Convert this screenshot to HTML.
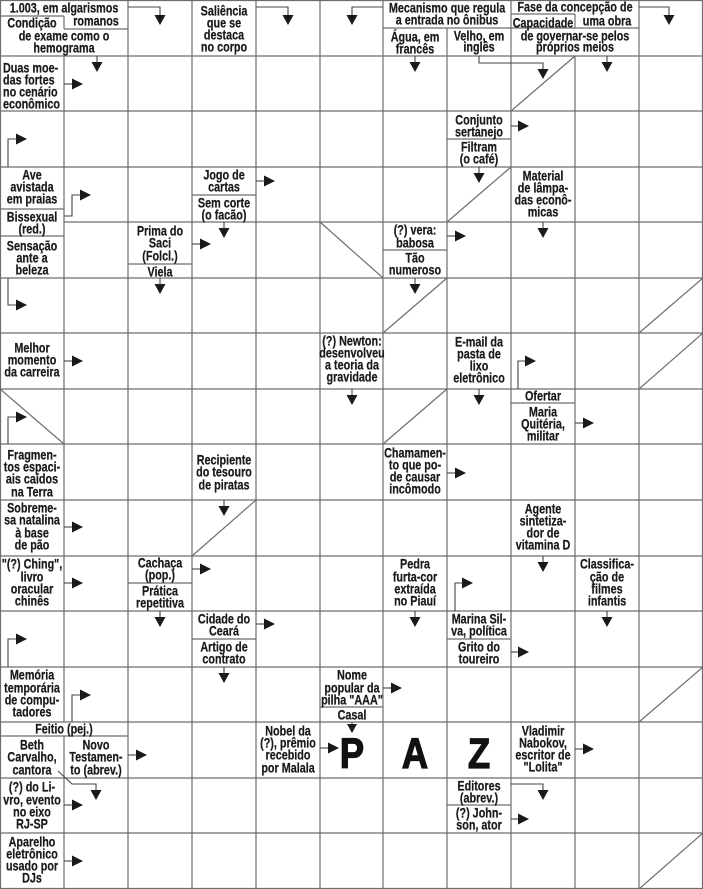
<!DOCTYPE html>
<html><head><meta charset="utf-8"><style>
html,body{margin:0;padding:0;background:#fff;}
svg{display:block;}
svg text{transform-box:fill-box;transform-origin:center;transform:scaleX(.8);}
svg .l text{transform-origin:left center;}
svg .big text{transform:scaleX(.85);}
</style></head><body>
<svg width="703" height="889" viewBox="0 0 703 889" xmlns="http://www.w3.org/2000/svg">
<rect x="0" y="0" width="703" height="889" fill="#fff"/>
<g stroke="#6e6e6e" stroke-width="1.2" fill="none">
<line x1="0.5" y1="0" x2="0.5" y2="889"/>
<line x1="64" y1="16" x2="64" y2="29"/>
<line x1="64" y1="56" x2="64" y2="722"/>
<line x1="64" y1="736" x2="64" y2="889"/>
<line x1="128" y1="0" x2="128" y2="889"/>
<line x1="192" y1="0" x2="192" y2="889"/>
<line x1="256" y1="0" x2="256" y2="889"/>
<line x1="320" y1="0" x2="320" y2="889"/>
<line x1="383" y1="0" x2="383" y2="889"/>
<line x1="447" y1="28" x2="447" y2="889"/>
<line x1="511" y1="0" x2="511" y2="889"/>
<line x1="575" y1="14" x2="575" y2="28"/>
<line x1="575" y1="56" x2="575" y2="889"/>
<line x1="639" y1="0" x2="639" y2="889"/>
<line x1="702.5" y1="0" x2="702.5" y2="889"/>
<line x1="0" y1="0.5" x2="703" y2="0.5"/>
<line x1="0" y1="56" x2="703" y2="56"/>
<line x1="0" y1="111" x2="703" y2="111"/>
<line x1="0" y1="167" x2="703" y2="167"/>
<line x1="64" y1="222" x2="703" y2="222"/>
<line x1="0" y1="278" x2="703" y2="278"/>
<line x1="0" y1="333" x2="703" y2="333"/>
<line x1="0" y1="389" x2="703" y2="389"/>
<line x1="0" y1="444" x2="703" y2="444"/>
<line x1="0" y1="500" x2="703" y2="500"/>
<line x1="0" y1="556" x2="703" y2="556"/>
<line x1="0" y1="611" x2="703" y2="611"/>
<line x1="0" y1="667" x2="703" y2="667"/>
<line x1="0" y1="722" x2="703" y2="722"/>
<line x1="0" y1="778" x2="703" y2="778"/>
<line x1="0" y1="833" x2="703" y2="833"/>
<line x1="0" y1="888.5" x2="703" y2="888.5"/>
<line x1="0" y1="16" x2="64" y2="16"/>
<line x1="64" y1="29" x2="128" y2="29"/>
<line x1="383" y1="28" x2="511" y2="28"/>
<line x1="511" y1="14" x2="575" y2="14"/>
<line x1="511" y1="28" x2="639" y2="28"/>
<line x1="447" y1="139" x2="511" y2="139"/>
<line x1="192" y1="195" x2="256" y2="195"/>
<line x1="0" y1="209" x2="64" y2="209"/>
<line x1="0" y1="236" x2="64" y2="236"/>
<line x1="128" y1="264" x2="192" y2="264"/>
<line x1="383" y1="250" x2="447" y2="250"/>
<line x1="511" y1="403" x2="575" y2="403"/>
<line x1="128" y1="583" x2="192" y2="583"/>
<line x1="192" y1="639" x2="256" y2="639"/>
<line x1="447" y1="639" x2="511" y2="639"/>
<line x1="320" y1="707" x2="383" y2="707"/>
<line x1="0" y1="736" x2="128" y2="736"/>
<line x1="447" y1="805" x2="511" y2="805"/>
<line x1="575" y1="56" x2="511" y2="111"/>
<line x1="511" y1="167" x2="447" y2="222"/>
<line x1="320" y1="222" x2="383" y2="278"/>
<line x1="447" y1="278" x2="383" y2="333"/>
<line x1="703" y1="278" x2="639" y2="333"/>
<line x1="703" y1="333" x2="639" y2="389"/>
<line x1="0" y1="389" x2="64" y2="444"/>
<line x1="447" y1="389" x2="383" y2="444"/>
<line x1="256" y1="500" x2="192" y2="556"/>
<line x1="703" y1="667" x2="639" y2="722"/>
<line x1="703" y1="833" x2="639" y2="889"/>
</g>
<g stroke="#444" stroke-width="1.1" fill="none">
<path d="M128,7H160V15"/><path d="M256,7H288V15"/><path d="M383,7H352V15"/><path d="M639,7H669V15"/>
<path d="M97,56V63"/><path d="M415,56V62"/><path d="M479,56V63H543V70"/><path d="M607,56V62"/>
<path d="M479,167V173"/><path d="M224,222V228"/><path d="M543,222V228"/><path d="M160,278V284"/>
<path d="M415,278V284"/><path d="M352,389V395"/><path d="M479,389V395"/><path d="M224,500V506"/>
<path d="M543,556V562"/><path d="M160,611V617"/><path d="M415,611V617"/><path d="M607,611V617"/>
<path d="M224,667V673"/><path d="M352,722V725"/><path d="M58,771L72,784H96V790"/><path d="M511,784H543V790"/>
<path d="M64,84H72"/><path d="M8,167V139H16"/><path d="M511,126H518"/><path d="M64,216H72V195H80"/>
<path d="M256,181H264"/><path d="M192,244H200"/><path d="M447,236H455"/><path d="M8,278V305H16"/>
<path d="M64,361H72"/><path d="M518,389V361H525"/><path d="M8,444V417H16"/><path d="M575,423H583"/>
<path d="M447,473H455"/><path d="M64,527H72"/><path d="M64,583H72"/><path d="M192,569H200"/>
<path d="M455,611V583H462"/><path d="M8,667V639H16"/><path d="M256,624H264"/><path d="M511,652H518"/>
<path d="M72,722V695H80"/><path d="M383,688H391"/><path d="M128,755H136"/><path d="M320,748H328"/>
<path d="M575,749H583"/><path d="M64,805H72"/><path d="M511,819H518"/><path d="M64,861H72"/>
</g>
<g fill="#1a1a1a">
<polygon points="154.5,15 165.5,15 160,25"/><polygon points="282.5,15 293.5,15 288,25"/>
<polygon points="346.5,15 357.5,15 352,25"/><polygon points="663.5,15 674.5,15 669,25"/>
<polygon points="91.5,62 102.5,62 97,72"/><polygon points="409.5,62 420.5,62 415,72"/>
<polygon points="537.5,69 548.5,69 543,79"/><polygon points="601.5,62 612.5,62 607,72"/>
<polygon points="473.5,173 484.5,173 479,183"/><polygon points="218.5,228 229.5,228 224,238"/>
<polygon points="537.5,228 548.5,228 543,238"/><polygon points="154.5,284 165.5,284 160,294"/>
<polygon points="409.5,284 420.5,284 415,294"/><polygon points="346.5,395 357.5,395 352,405"/>
<polygon points="473.5,395 484.5,395 479,405"/><polygon points="218.5,506 229.5,506 224,516"/>
<polygon points="537.5,562 548.5,562 543,572"/><polygon points="154.5,617 165.5,617 160,627"/>
<polygon points="409.5,617 420.5,617 415,627"/><polygon points="601.5,617 612.5,617 607,627"/>
<polygon points="218.5,673 229.5,673 224,683"/><polygon points="347,724 357,724 352,733"/>
<polygon points="90.5,790 101.5,790 96,800"/><polygon points="537.5,790 548.5,790 543,800"/>
<polygon points="72,78.5 83,84 72,89.5"/><polygon points="16,133.5 27,139 16,144.5"/>
<polygon points="518,120.5 529,126 518,131.5"/><polygon points="80,189.5 91,195 80,200.5"/>
<polygon points="264,175.5 275,181 264,186.5"/><polygon points="200,238.5 211,244 200,249.5"/>
<polygon points="455,230.5 466,236 455,241.5"/><polygon points="16,299.5 27,305 16,310.5"/>
<polygon points="72,355.5 83,361 72,366.5"/><polygon points="525,355.5 536,361 525,366.5"/>
<polygon points="16,411.5 27,417 16,422.5"/><polygon points="583,417.5 594,423 583,428.5"/>
<polygon points="455,467.5 466,473 455,478.5"/><polygon points="72,521.5 83,527 72,532.5"/>
<polygon points="72,577.5 83,583 72,588.5"/><polygon points="200,563.5 211,569 200,574.5"/>
<polygon points="462,577.5 473,583 462,588.5"/><polygon points="16,633.5 27,639 16,644.5"/>
<polygon points="264,618.5 275,624 264,629.5"/><polygon points="518,646.5 529,652 518,657.5"/>
<polygon points="80,689.5 91,695 80,700.5"/><polygon points="391,682.5 402,688 391,693.5"/>
<polygon points="136,749.5 147,755 136,760.5"/><polygon points="328,742.5 339,748 328,753.5"/>
<polygon points="583,743.5 594,749 583,754.5"/><polygon points="72,799.5 83,805 72,810.5"/>
<polygon points="518,813.5 529,819 518,824.5"/><polygon points="72,855.5 83,861 72,866.5"/>
</g>
<g font-family="'Liberation Sans Narrow','Liberation Sans',sans-serif" font-weight="bold" font-size="13.5" fill="#1a1a1a" stroke="#1a1a1a" stroke-width="0.25" text-anchor="middle" dominant-baseline="central">
<text x="64" y="8">1.003, em algarismos</text>
<text x="96" y="21">romanos</text>
<text x="32" y="23">Condição</text>
<text x="64" y="36">de exame como o</text>
<text x="64" y="48">hemograma</text>
<text x="224" y="11">Saliência</text><text x="224" y="23">que se</text><text x="224" y="35">destaca</text><text x="224" y="47">no corpo</text>
<text x="447" y="8">Mecanismo que regula</text><text x="447" y="20">a entrada no ônibus</text>
<text x="415" y="37">Água, em</text><text x="415" y="49">francês</text>
<text x="479" y="36">Velho, em</text><text x="479" y="47">inglês</text>
<text x="575" y="7">Fase da concepção de</text>
<text x="607" y="21">uma obra</text>
<text x="543" y="23">Capacidade</text>
<text x="575" y="36">de governar-se pelos</text><text x="575" y="47">próprios meios</text>
<g class="l" text-anchor="start"><text x="3" y="68">Duas moe-</text><text x="3" y="80">das fortes</text><text x="3" y="92">no cenário</text><text x="3" y="104">econômico</text></g>
<text x="479" y="120">Conjunto</text><text x="479" y="132">sertanejo</text>
<text x="479" y="147">Filtram</text><text x="479" y="159">(o café)</text>
<text x="32" y="175">Ave</text><text x="32" y="187">avistada</text><text x="32" y="199">em praias</text>
<text x="32" y="217">Bissexual</text><text x="32" y="229">(red.)</text>
<text x="32" y="246">Sensação</text><text x="32" y="258">ante a</text><text x="32" y="270">beleza</text>
<text x="224" y="175">Jogo de</text><text x="224" y="187">cartas</text>
<text x="224" y="203">Sem corte</text><text x="224" y="215">(o facão)</text>
<text x="543" y="176">Material</text><text x="543" y="188">de lâmpa-</text><text x="543" y="200">das econô-</text><text x="543" y="212">micas</text>
<text x="160" y="231">Prima do</text><text x="160" y="243">Saci</text><text x="160" y="256">(Folcl.)</text>
<text x="160" y="272">Viela</text>
<text x="415" y="230">(?) vera:</text><text x="415" y="243">babosa</text>
<text x="415" y="258">Tão</text><text x="415" y="270">numeroso</text>
<text x="32" y="348">Melhor</text><text x="32" y="360">momento</text><text x="32" y="372">da carreira</text>
<text x="352" y="341">(?) Newton:</text><text x="352" y="353">desenvolveu</text><text x="352" y="365">a teoria da</text><text x="352" y="377">gravidade</text>
<text x="479" y="342">E-mail da</text><text x="479" y="354">pasta de</text><text x="479" y="366">lixo</text><text x="479" y="378">eletrônico</text>
<text x="543" y="396">Ofertar</text>
<text x="543" y="412">Maria</text><text x="543" y="424">Quitéria,</text><text x="543" y="436">militar</text>
<text x="32" y="455">Fragmen-</text><text x="32" y="467">tos espaci-</text><text x="32" y="479">ais caídos</text><text x="32" y="492">na Terra</text>
<text x="224" y="460">Recipiente</text><text x="224" y="472">do tesouro</text><text x="224" y="485">de piratas</text>
<text x="415" y="453">Chamamen-</text><text x="415" y="465">to que po-</text><text x="415" y="477">de causar</text><text x="415" y="489">incômodo</text>
<text x="32" y="508">Sobreme-</text><text x="32" y="520">sa natalina</text><text x="32" y="533">à base</text><text x="32" y="545">de pão</text>
<text x="543" y="509">Agente</text><text x="543" y="521">sintetiza-</text><text x="543" y="533">dor de</text><text x="543" y="545">vitamina D</text>
<text x="32" y="564">"(?) Ching",</text><text x="32" y="577">livro</text><text x="32" y="589">oracular</text><text x="32" y="601">chinês</text>
<text x="160" y="563">Cachaça</text><text x="160" y="575">(pop.)</text>
<text x="160" y="591">Prática</text><text x="160" y="603">repetitiva</text>
<text x="415" y="564">Pedra</text><text x="415" y="577">furta-cor</text><text x="415" y="589">extraída</text><text x="415" y="601">no Piauí</text>
<text x="607" y="564">Classifica-</text><text x="607" y="577">ção de</text><text x="607" y="589">filmes</text><text x="607" y="601">infantis</text>
<text x="224" y="619">Cidade do</text><text x="224" y="631">Ceará</text>
<text x="224" y="647">Artigo de</text><text x="224" y="659">contrato</text>
<text x="479" y="619">Marina Sil-</text><text x="479" y="631">va, política</text>
<text x="479" y="647">Grito do</text><text x="479" y="659">toureiro</text>
<text x="32" y="675">Memória</text><text x="32" y="688">temporária</text><text x="32" y="700">de compu-</text><text x="32" y="712">tadores</text>
<text x="352" y="675">Nome</text><text x="352" y="688">popular da</text><text x="352" y="700">pilha "AAA"</text>
<text x="352" y="715">Casal</text>
<text x="64" y="729">Feitio (pej.)</text>
<text x="32" y="745">Beth</text><text x="32" y="757">Carvalho,</text><text x="32" y="770">cantora</text>
<text x="96" y="745">Novo</text><text x="96" y="757">Testamen-</text><text x="96" y="770">to (abrev.)</text>
<text x="288" y="731">Nobel da</text><text x="288" y="743">(?), prêmio</text><text x="288" y="755">recebido</text><text x="288" y="768">por Malala</text>
<text x="543" y="731">Vladimir</text><text x="543" y="743">Nabokov,</text><text x="543" y="755">escritor de</text><text x="543" y="767">"Lolita"</text>
<text x="32" y="787">(?) do Li-</text><text x="32" y="800">vro, evento</text><text x="32" y="812">no eixo</text><text x="32" y="824">RJ-SP</text>
<text x="479" y="786">Editores</text><text x="479" y="798">(abrev.)</text>
<text x="479" y="813">(?) John-</text><text x="479" y="825">son, ator</text>
<text x="32" y="842">Aparelho</text><text x="32" y="854">eletrônico</text><text x="32" y="866">usado por</text><text x="32" y="878">DJs</text>
</g>
<g class="big" font-family="'Liberation Sans Narrow','Liberation Sans',sans-serif" font-weight="bold" font-size="43" fill="#111" stroke="#111" stroke-width="1.2" text-anchor="middle">
<text x="352" y="768">P</text><text x="415" y="768">A</text><text x="479" y="768">Z</text>
</g>
</svg>
</body></html>
